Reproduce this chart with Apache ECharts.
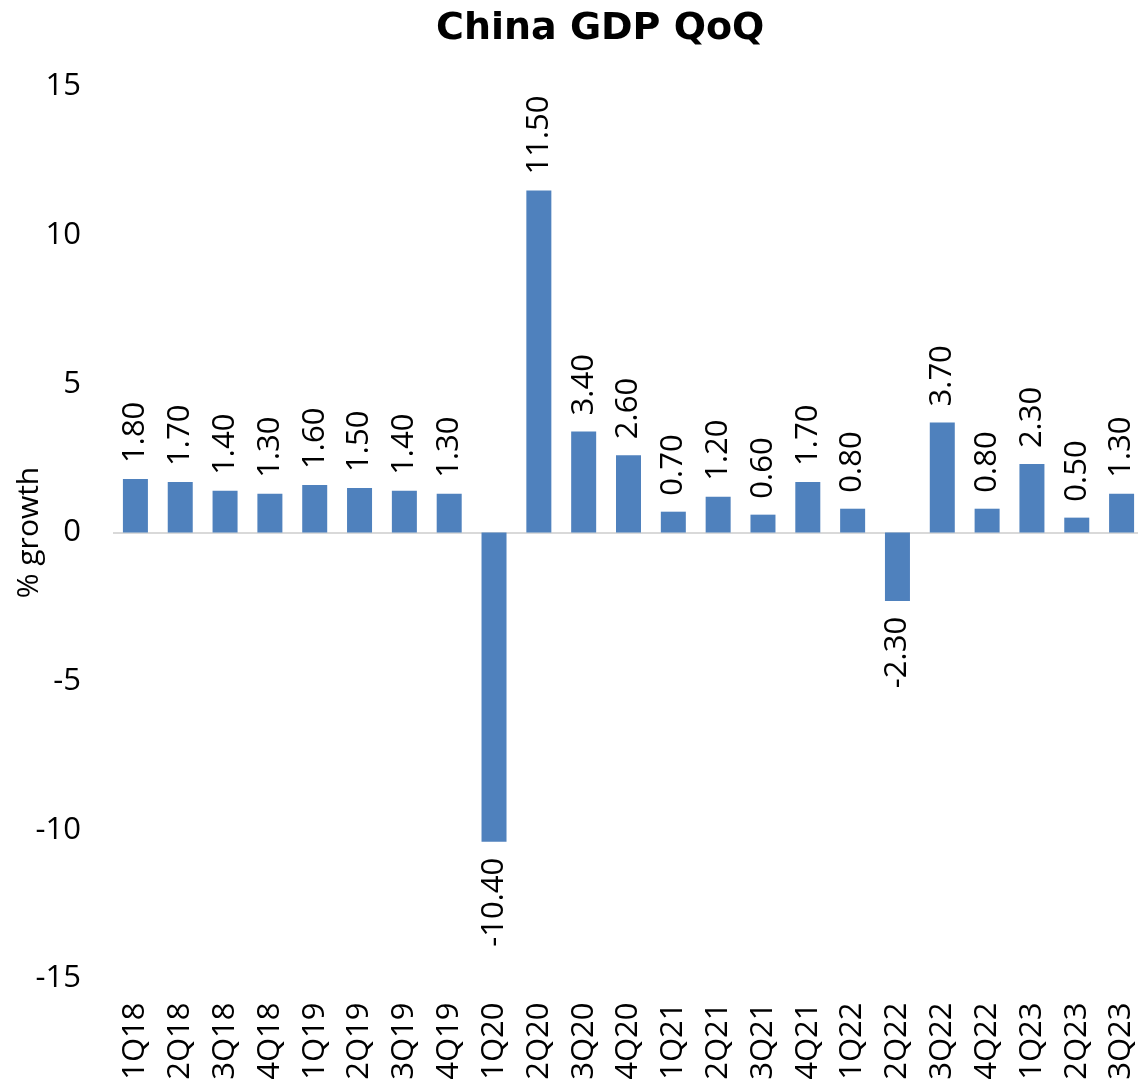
<!DOCTYPE html>
<html>
<head>
<meta charset="utf-8">
<script src="https://cdn.jsdelivr.net/npm/echarts@6/dist/echarts.min.js"></script>
<style>
  html, body { margin: 0; padding: 0; background: #fff; }
  #chart { width: 1138px; height: 1092px; }
</style>
</head>
<body>
<div id="chart"></div>
<script>
const titleText = 'China GDP QoQ';
const yAxisName = '% growth';
const categories = ['1Q18','2Q18','3Q18','4Q18','1Q19','2Q19','3Q19','4Q19','1Q20','2Q20','3Q20','4Q20','1Q21','2Q21','3Q21','4Q21','1Q22','2Q22','3Q22','4Q22','1Q23','2Q23','3Q23'];
const gdpQoQ = [1.8, 1.7, 1.4, 1.3, 1.6, 1.5, 1.4, 1.3, -10.4, 11.5, 3.4, 2.6, 0.7, 1.2, 0.6, 1.7, 0.8, -2.3, 3.7, 0.8, 2.3, 0.5, 1.3];
const yMin = -15, yMax = 15, yStep = 5;

const FONT = '"Open Sans", sans-serif';
const seriesData = gdpQoQ.map(v => v < 0
  ? { value: v, label: { position: 'bottom', align: 'right' } }
  : { value: v });

const chart = echarts.init(document.getElementById('chart'), null, { renderer: 'canvas' });
chart.setOption({
  animation: false,
  backgroundColor: '#ffffff',
  title: {
    text: titleText,
    left: 431,
    top: 5,
    textStyle: { fontFamily: '"DejaVu Sans", sans-serif', fontWeight: 'bold', fontSize: 38, color: '#000' }
  },
  grid: { left: 113, top: 86.5, width: 1031, height: 892, outerBoundsMode: 'none', containLabel: false },
  xAxis: {
    type: 'category',
    data: categories,
    axisLine: { show: false, onZero: false },
    axisTick: { show: false },
    axisLabel: { interval: 0, rotate: 90, margin: 24, fontSize: 31, fontFamily: FONT, color: '#000' }
  },
  yAxis: {
    type: 'value',
    min: yMin, max: yMax, interval: yStep,
    name: yAxisName,
    nameLocation: 'middle',
    nameGap: 69,
    nameRotate: 90,
    nameMoveOverlap: false,
    nameTextStyle: { fontSize: 30, fontFamily: FONT, color: '#000', fontWeight: 'normal' },
    axisLine: { show: false },
    axisTick: { show: false },
    splitLine: { show: false },
    axisLabel: { margin: 32, fontSize: 31, fontFamily: FONT, color: '#000' }
  },
  series: [{
    type: 'bar',
    data: seriesData,
    barWidth: 25,
    itemStyle: { color: '#4F81BD' },
    label: {
      show: true,
      position: 'top',
      rotate: 90,
      align: 'left',
      verticalAlign: 'middle',
      distance: 16,
      fontSize: 31,
      fontFamily: FONT,
      color: '#000',
      formatter: p => Number(p.value).toFixed(2)
    },
    markLine: {
      silent: true,
      symbol: 'none',
      label: { show: false },
      lineStyle: { color: '#D9D9D9', width: 2, type: 'solid' },
      data: [{ yAxis: 0 }],
      z: 1
    }
  }]
});
</script>
</body>
</html>
